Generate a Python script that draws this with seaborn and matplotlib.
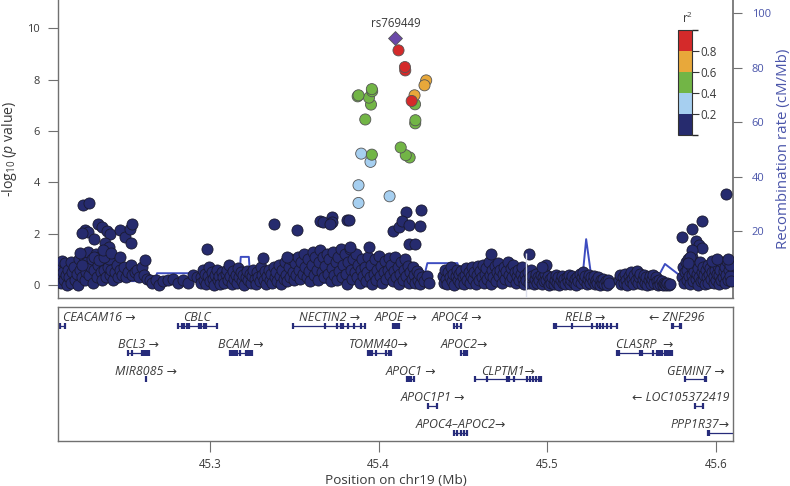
import numpy as np
import pandas as pd
import matplotlib
matplotlib.use('Agg')
import matplotlib.pyplot as plt
import seaborn as sns
from matplotlib.colors import ListedColormap, BoundaryNorm
import matplotlib.colorbar as mcolorbar

#lead variant
lead_name = 'rs769449'
lead_pos = 45.4100
lead_logp = 9.62

#variants in LD with the lead variant (position Mb, -log10 p, r2)
ld_pos = [45.4118, 45.4156, 45.4158, 45.4282, 45.4272, 45.4213, 45.4196, 45.4216,
          45.4218, 45.4217, 45.3881, 45.3876, 45.3960, 45.3962, 45.3943, 45.3955,
          45.3921, 45.4131, 45.4161, 45.4184, 45.3897, 45.3960, 45.3952, 45.3881,
          45.3881, 45.4065]
ld_logp = [9.14, 8.49, 8.36, 7.97, 7.78, 7.39, 7.17, 7.04,
           6.42, 6.30, 7.39, 7.35, 7.63, 7.55, 7.30, 7.03,
           6.45, 5.36, 5.06, 4.97, 5.12, 5.08, 4.80, 3.89,
           3.20, 3.46]
ld_r2 = [0.86, 0.85, 0.83, 0.70, 0.70, 0.66, 0.82, 0.50,
         0.50, 0.48, 0.50, 0.45, 0.52, 0.50, 0.48, 0.47,
         0.46, 0.50, 0.48, 0.45, 0.30, 0.42, 0.30, 0.28,
         0.26, 0.30]

#all other variants, r2 < 0.2 (position Mb, -log10 p)
bg_snps = [
    #45.21 - 45.30
    (45.2105, 0.3), (45.2112, 0.75), (45.2118, 0.1), (45.2125, 0.95), (45.2130, 0.5), (45.2137, 0.2),
    (45.2143, 0.85), (45.2148, 0.4), (45.2155, 0.0), (45.2160, 0.6), (45.2168, 0.3), (45.2175, 0.9),
    (45.2180, 0.1), (45.2186, 0.5), (45.2193, 0.7), (45.2200, 0.2), (45.2210, 0.45), (45.2218, 0.0),
    (45.2225, 1.0), (45.2230, 0.6), (45.2240, 0.3), (45.2248, 0.8), (45.2252, 1.1), (45.2260, 0.2),
    (45.2265, 0.5), (45.2272, 0.9), (45.2278, 1.3), (45.2285, 0.4), (45.2295, 0.7), (45.2300, 1.0),
    (45.2310, 0.1), (45.2316, 0.6), (45.2325, 1.2), (45.2330, 0.3), (45.2338, 0.8), (45.2344, 1.1),
    (45.2352, 0.5), (45.2360, 0.2), (45.2366, 0.9), (45.2373, 0.6), (45.2378, 1.2), (45.2386, 0.3),
    (45.2395, 0.7), (45.2402, 1.0), (45.2407, 0.4), (45.2415, 0.6), (45.2425, 0.2), (45.2436, 0.5),
    (45.2448, 0.8), (45.2458, 0.3), (45.2470, 0.6), (45.2482, 0.4), (45.2494, 0.7), (45.2505, 0.3),
    (45.2517, 0.5), (45.2530, 0.8), (45.2540, 0.4), (45.2556, 0.5), (45.2568, 0.6), (45.2580, 0.3),
    (45.2595, 0.7), (45.2610, 0.4), (45.2625, 0.25), (45.2645, 0.2), (45.2660, 0.1), (45.2680, 0.2),
    (45.2700, 0.0), (45.2720, 0.15), (45.2750, 0.2), (45.2780, 0.25), (45.2810, 0.1), (45.2840, 0.2),
    (45.2870, 0.1), (45.2900, 0.4), (45.2925, 0.3),
    (45.2251, 3.11), (45.2286, 3.19), (45.2262, 2.14), (45.2279, 2.06), (45.2244, 2.02), (45.2338, 2.4),
    (45.2362, 2.25), (45.2392, 2.1), (45.2409, 2.0), (45.2315, 1.79), (45.2468, 2.14), (45.2498, 1.87),
    (45.2527, 2.2), (45.2539, 2.4), (45.2533, 1.63), (45.2232, 1.25), (45.2313, 1.1), (45.2342, 0.97),
    (45.2376, 1.63), (45.2372, 1.1), (45.2402, 1.49), (45.2367, 1.36), (45.2416, 1.24), (45.2465, 1.1),
    (45.2613, 0.97), (45.2240, 0.78),
    #45.29 - 45.43
    (45.2945, 0.3), (45.2950, 0.1), (45.2958, 0.6), (45.2965, 0.2), (45.2972, 0.45), (45.2980, 0.05),
    (45.2988, 0.35), (45.2995, 0.7), (45.3003, 0.15), (45.3010, 0.5), (45.3018, 0.25), (45.3025, 0.0),
    (45.3032, 0.4), (45.3040, 0.6), (45.3048, 0.2), (45.3055, 0.35), (45.3062, 0.05), (45.3070, 0.5),
    (45.3078, 0.3), (45.3085, 0.1), (45.3093, 0.45), (45.3100, 0.6), (45.3108, 0.2), (45.3115, 0.8),
    (45.3122, 0.35), (45.3130, 0.05), (45.3138, 0.55), (45.3145, 0.25), (45.3152, 0.4), (45.3160, 0.1),
    (45.3168, 0.65), (45.3175, 0.3), (45.3183, 0.5), (45.3190, 0.15), (45.3198, 0.4), (45.3205, 0.0),
    (45.3212, 0.3), (45.3220, 0.55), (45.3228, 0.2), (45.3235, 0.45), (45.3243, 0.1), (45.3250, 0.35),
    (45.3258, 0.6), (45.3265, 0.25), (45.3272, 0.05), (45.3280, 0.5), (45.3288, 0.3), (45.3295, 0.15),
    (45.3302, 0.7), (45.3310, 0.4), (45.3318, 0.2), (45.3325, 0.55), (45.3333, 0.05), (45.3340, 0.35),
    (45.3348, 0.6), (45.3355, 0.2), (45.3363, 0.45), (45.3370, 0.1), (45.3378, 0.7), (45.3385, 0.3),
    (45.3393, 0.5), (45.3400, 0.15), (45.3408, 0.8), (45.3415, 0.35), (45.3423, 0.05), (45.3430, 0.6),
    (45.3438, 0.25), (45.3445, 0.9), (45.3453, 0.4), (45.3460, 0.15), (45.3468, 0.7), (45.3475, 0.3),
    (45.3483, 1.0), (45.3490, 0.5), (45.3498, 0.2), (45.3505, 0.85), (45.3513, 0.4), (45.3520, 1.1),
    (45.3528, 0.6), (45.3535, 0.25), (45.3543, 0.9), (45.3550, 0.45), (45.3558, 1.2), (45.3565, 0.7),
    (45.3573, 0.3), (45.3580, 1.0), (45.3588, 0.55), (45.3595, 0.15), (45.3603, 0.8), (45.3610, 1.3),
    (45.3618, 0.4), (45.3625, 1.1), (45.3633, 0.6), (45.3640, 0.2), (45.3648, 0.9), (45.3655, 1.35),
    (45.3663, 0.5), (45.3670, 1.1), (45.3678, 0.3), (45.3685, 0.75), (45.3693, 1.2), (45.3700, 0.45),
    (45.3708, 1.0), (45.3715, 0.15), (45.3723, 0.65), (45.3730, 1.3), (45.3738, 0.4), (45.3745, 0.9),
    (45.3753, 0.2), (45.3760, 1.1), (45.3768, 0.55), (45.3775, 1.4), (45.3783, 0.3), (45.3790, 0.8),
    (45.3798, 1.2), (45.3805, 0.45), (45.3813, 0.05), (45.3820, 0.9), (45.3828, 1.4), (45.3835, 0.6),
    (45.3843, 0.25), (45.3850, 1.0), (45.3858, 0.5), (45.3865, 1.2), (45.3873, 0.3), (45.3880, 0.8),
    (45.3888, 0.1), (45.3895, 0.6), (45.3903, 1.0), (45.3910, 0.35), (45.3918, 0.7), (45.3925, 0.15),
    (45.3933, 0.5), (45.3940, 1.1), (45.3948, 0.3), (45.3955, 0.8), (45.3963, 0.05), (45.3970, 0.45),
    (45.3978, 1.0), (45.3985, 0.2), (45.3993, 0.6), (45.4000, 1.15), (45.4008, 0.35), (45.4015, 0.75),
    (45.4023, 0.1), (45.4030, 0.5), (45.4038, 0.95), (45.4045, 0.25), (45.4053, 0.6), (45.4060, 1.05),
    (45.4068, 0.4), (45.4075, 0.8), (45.4083, 0.15), (45.4090, 0.55), (45.4098, 1.1), (45.4105, 0.3),
    (45.4113, 0.7), (45.4120, 0.05), (45.4128, 0.45), (45.4135, 0.9), (45.4143, 0.2), (45.4150, 0.6),
    (45.4158, 1.0), (45.4165, 0.35), (45.4173, 0.75), (45.4180, 0.1), (45.4188, 0.5), (45.4195, 0.25),
    (45.4203, 0.7), (45.4210, 0.4), (45.4218, 0.1), (45.4225, 0.55), (45.4233, 0.2), (45.4240, 0.45),
    (45.4248, 0.05), (45.4255, 0.3), (45.4270, 0.15), (45.4285, 0.35), (45.4298, 0.1),
    (45.2982, 1.39), (45.3313, 1.05), (45.3455, 1.1), (45.3379, 2.37), (45.3515, 2.14), (45.3651, 2.5),
    (45.3668, 2.45), (45.3722, 2.65), (45.3724, 2.45), (45.3710, 2.4), (45.3810, 2.52), (45.3822, 2.52),
    (45.3946, 1.48), (45.3828, 1.48), (45.4083, 2.1), (45.4118, 2.25),
    (45.4163, 2.84), (45.4252, 2.92), (45.4140, 2.5), (45.4183, 2.35), (45.4246, 2.3), (45.4183, 1.6),
    (45.4217, 1.6),
    #45.438 - 45.537
    (45.4380, 0.35), (45.4386, 0.1), (45.4393, 0.6), (45.4400, 0.25), (45.4407, 0.05), (45.4414, 0.5),
    (45.4421, 0.3), (45.4428, 0.7), (45.4435, 0.15), (45.4442, 0.45), (45.4449, 0.0), (45.4456, 0.35),
    (45.4463, 0.6), (45.4470, 0.2), (45.4477, 0.45), (45.4484, 0.1), (45.4491, 0.55), (45.4498, 0.3),
    (45.4505, 0.05), (45.4512, 0.4), (45.4519, 0.65), (45.4526, 0.2), (45.4533, 0.5), (45.4540, 0.1),
    (45.4547, 0.35), (45.4554, 0.7), (45.4561, 0.25), (45.4568, 0.5), (45.4575, 0.05), (45.4582, 0.4),
    (45.4589, 0.75), (45.4596, 0.2), (45.4603, 0.55), (45.4610, 0.3), (45.4617, 0.8), (45.4624, 0.1),
    (45.4631, 0.45), (45.4638, 0.65), (45.4645, 0.25), (45.4652, 0.9), (45.4659, 0.4), (45.4666, 0.05),
    (45.4673, 0.6), (45.4680, 0.3), (45.4687, 0.75), (45.4694, 0.15), (45.4701, 0.5), (45.4708, 0.85),
    (45.4715, 0.35), (45.4722, 0.6), (45.4729, 0.1), (45.4736, 0.45), (45.4743, 0.7), (45.4750, 0.25),
    (45.4757, 0.55), (45.4764, 0.9), (45.4771, 0.4), (45.4778, 0.15), (45.4785, 0.65), (45.4792, 0.3),
    (45.4799, 0.8), (45.4806, 0.5), (45.4813, 0.1), (45.4820, 0.35), (45.4827, 0.6), (45.4834, 0.2),
    (45.4841, 0.45), (45.4848, 0.7), (45.4855, 0.25), (45.4862, 0.05), (45.4869, 0.4), (45.4876, 0.2),
    (45.4883, 0.5), (45.4890, 0.1), (45.4897, 0.3), (45.4904, 0.6), (45.4911, 0.35), (45.4918, 0.05),
    (45.4925, 0.25), (45.4932, 0.45), (45.4939, 0.1), (45.4946, 0.3), (45.4953, 0.2), (45.4960, 0.4),
    (45.4967, 0.05), (45.4974, 0.3), (45.4981, 0.15), (45.4988, 0.45), (45.4995, 0.2), (45.5002, 0.35),
    (45.5009, 0.0), (45.5016, 0.25), (45.5023, 0.1), (45.5030, 0.3), (45.5037, 0.05), (45.5044, 0.2),
    (45.5051, 0.4), (45.5058, 0.1), (45.5065, 0.3), (45.5072, 0.0), (45.5079, 0.2), (45.5086, 0.35),
    (45.5093, 0.1), (45.5100, 0.25), (45.5107, 0.05), (45.5114, 0.3), (45.5121, 0.15), (45.5128, 0.4),
    (45.5135, 0.05), (45.5142, 0.2), (45.5149, 0.35), (45.5156, 0.1), (45.5163, 0.25), (45.5170, 0.0),
    (45.5177, 0.3), (45.5184, 0.15), (45.5191, 0.45), (45.5198, 0.1), (45.5205, 0.3), (45.5212, 0.5),
    (45.5219, 0.2), (45.5226, 0.35), (45.5233, 0.05), (45.5240, 0.25), (45.5247, 0.4), (45.5254, 0.1),
    (45.5261, 0.3), (45.5268, 0.15), (45.5275, 0.35), (45.5282, 0.05), (45.5289, 0.2), (45.5296, 0.1),
    (45.5303, 0.3), (45.5310, 0.0), (45.5317, 0.2), (45.5324, 0.1), (45.5331, 0.25), (45.5338, 0.05),
    (45.5345, 0.15), (45.5352, 0.0), (45.5359, 0.2), (45.5366, 0.1),
    (45.4666, 1.23), (45.4893, 1.2), (45.4992, 0.78), (45.4971, 0.71),
    #45.542 - 45.578
    (45.5425, 0.2), (45.5432, 0.4), (45.5439, 0.05), (45.5446, 0.3), (45.5453, 0.1), (45.5460, 0.45),
    (45.5467, 0.2), (45.5474, 0.0), (45.5481, 0.35), (45.5488, 0.15), (45.5495, 0.5), (45.5502, 0.25),
    (45.5509, 0.05), (45.5516, 0.4), (45.5523, 0.2), (45.5530, 0.55), (45.5537, 0.1), (45.5544, 0.3),
    (45.5551, 0.45), (45.5558, 0.05), (45.5565, 0.25), (45.5572, 0.4), (45.5579, 0.1), (45.5586, 0.3),
    (45.5593, 0.0), (45.5600, 0.2), (45.5607, 0.35), (45.5614, 0.05), (45.5621, 0.25), (45.5628, 0.4),
    (45.5635, 0.1), (45.5642, 0.3), (45.5649, 0.15), (45.5656, 0.0), (45.5663, 0.2), (45.5670, 0.05),
    (45.5677, 0.15), (45.5684, 0.0), (45.5691, 0.1), (45.5698, 0.05), (45.5705, 0.0), (45.5712, 0.1),
    (45.5719, 0.0), (45.5726, 0.05),
    #45.580 - 45.61
    (45.5800, 0.3), (45.5805, 0.7), (45.5810, 0.1), (45.5815, 0.5), (45.5820, 0.9), (45.5825, 0.2),
    (45.5830, 0.6), (45.5835, 1.0), (45.5840, 0.35), (45.5845, 0.05), (45.5850, 0.75), (45.5855, 0.4),
    (45.5860, 1.1), (45.5865, 0.15), (45.5870, 0.55), (45.5875, 0.85), (45.5880, 0.25), (45.5885, 0.45),
    (45.5890, 0.0), (45.5895, 0.65), (45.5900, 0.3), (45.5905, 0.9), (45.5910, 0.15), (45.5915, 0.5),
    (45.5920, 0.7), (45.5925, 0.2), (45.5930, 0.4), (45.5935, 0.05), (45.5940, 0.6), (45.5945, 0.3),
    (45.5950, 0.8), (45.5955, 0.1), (45.5960, 0.45), (45.5965, 0.65), (45.5970, 0.25), (45.5975, 0.5),
    (45.5980, 0.9), (45.5985, 0.1), (45.5990, 0.35), (45.5995, 0.6), (45.6000, 0.2), (45.6005, 0.45),
    (45.6010, 0.75), (45.6015, 0.05), (45.6020, 0.4), (45.6025, 0.6), (45.6030, 0.2), (45.6035, 0.9),
    (45.6040, 0.3), (45.6045, 0.55), (45.6050, 0.1), (45.6055, 0.7), (45.6060, 0.4), (45.6065, 0.95),
    (45.6070, 0.2), (45.6075, 0.6), (45.6080, 0.35), (45.6085, 0.8), (45.6090, 0.15),
    (45.5800, 1.86), (45.5859, 2.2), (45.5918, 2.48), (45.6056, 3.53), (45.5880, 1.7), (45.5900, 1.58),
    (45.5918, 1.44), (45.5860, 1.36), (45.5843, 1.1), (45.5835, 0.85), (45.5973, 0.95), (45.6008, 1.0),
    (45.6070, 1.0),
]

#recombination rate (cM/Mb)
recomb_pos = [45.2101, 45.2675, 45.2687, 45.3177, 45.3183, 45.3231, 45.3237, 45.3526, 45.3556,
              45.3585, 45.3600, 45.4260, 45.4289, 45.4467, 45.4473, 45.4600, 45.5206, 45.5230,
              45.5260, 45.5378, 45.5425, 45.5632, 45.5697, 45.5810, 45.6094]
recomb_rate = [1.6, 1.6, 4.5, 4.5, 10.5, 10.5, 4.6, 4.6, 12.3,
               1.4, 1.0, 0.8, 8.2, 8.2, 6.5, 2.0, 1.5, 17.0,
               3.5, 1.0, 0.2, 0.3, 7.9, 2.5, 1.5]
gap_pos = 45.4875

#genes: label, start, end, row, exon positions
gene_labels = ['CEACAM16 \u2192', 'CBLC', 'NECTIN2 \u2192', 'APOE \u2192', 'APOC4 \u2192', 'RELB \u2192',
               '\u2190 ZNF296', 'BCL3 \u2192', 'BCAM \u2192', 'TOMM40\u2192', 'APOC2\u2192', 'CLASRP  \u2192',
               'MIR8085 \u2192', 'APOC1 \u2192', 'CLPTM1\u2192', 'GEMIN7 \u2192', 'APOC1P1 \u2192',
               '\u2190 LOC105372419', 'APOC4\u2013APOC2\u2192', 'PPP1R37\u2192']
gene_start = [45.2114, 45.2813, 45.3492, 45.4084, 45.4447, 45.5042, 45.5737, 45.2517, 45.3118, 45.3935,
              45.4487, 45.5412, 45.2620, 45.4171, 45.4571, 45.5816, 45.4290, 45.5875, 45.4447, 45.5953]
gene_end = [45.2144, 45.3040, 45.3921, 45.4122, 45.4486, 45.5411, 45.5792, 45.2640, 45.3250, 45.4073,
            45.4526, 45.5741, 45.2621, 45.4211, 45.4965, 45.5943, 45.4349, 45.5924, 45.4526, 45.6200]
gene_row = [0, 0, 0, 0, 0, 0, 0, 1, 1, 1, 1, 1, 2, 2, 2, 2, 3, 3, 4, 4]
gene_exons = [
    [45.2114, 45.2144],
    [45.2813, 45.2833, 45.2848, 45.2866, 45.2878, 45.2937, 45.2947, 45.2965, 45.2975, 45.3040],
    [45.3492, 45.3685, 45.3752, 45.3778, 45.3787, 45.3817, 45.3856, 45.3896, 45.3921],
    [45.4085, 45.4092, 45.4099, 45.4106, 45.4113, 45.4120],
    [45.4447, 45.4466, 45.4486],
    [45.5042, 45.5054, 45.5146, 45.5264, 45.5293, 45.5313, 45.5327, 45.5353, 45.5378, 45.5411],
    [45.5737, 45.5743, 45.5786, 45.5792],
    [45.2517, 45.2541, 45.2597, 45.2604, 45.2611, 45.2618, 45.2625, 45.2632, 45.2640],
    [45.3118, 45.3132, 45.3140, 45.3148, 45.3161, 45.3177, 45.3217, 45.3224, 45.3236, 45.3243, 45.3250],
    [45.3935, 45.3942, 45.3949, 45.3956, 45.3963, 45.3985, 45.4044, 45.4063, 45.4073],
    [45.4487, 45.4505, 45.4512, 45.4519, 45.4526],
    [45.5412, 45.5422, 45.5550, 45.5559, 45.5628, 45.5648, 45.5658, 45.5667, 45.5677, 45.5697, 45.5707,
     45.5716, 45.5726, 45.5734, 45.5741],
    [45.2620],
    [45.4171, 45.4180, 45.4190, 45.4211],
    [45.4571, 45.4644, 45.4758, 45.4772, 45.4802, 45.4880, 45.4900, 45.4914, 45.4930, 45.4949, 45.4965],
    [45.5816, 45.5934, 45.5943],
    [45.4290, 45.4349],
    [45.5875, 45.5924],
    [45.4447, 45.4467, 45.4487, 45.4506, 45.4526],
    [45.5953, 45.5960],
]

x_ticks = [45.3, 45.4, 45.5, 45.6]

#colours
r2_bins = [0, 0.2, 0.4, 0.6, 0.8, 1.0]
r2_colors = ['#262b6e', '#a6cff0', '#72b546', '#e8a83a', '#d42a2a']
lead_color = '#6a48a8'
recomb_color = '#3d4cc0'
recomb_text = '#4a55aa'
spine_color = '#707070'
text_color = '#3a3a3a'

sns.set_theme(style='white')
plt.rcParams['font.family'] = ['Open Sans', 'DejaVu Sans']
plt.rcParams['mathtext.fontset'] = 'custom'
plt.rcParams['mathtext.rm'] = 'Open Sans'
plt.rcParams['mathtext.it'] = 'Open Sans:italic'

fig = plt.figure(figsize=(7.9, 4.86), dpi=100)
ax = fig.add_axes([0.0734, 0.3868, 0.8544, 0.6132])
ax_g = fig.add_axes([0.0734, 0.0926, 0.8544, 0.2757])

#recombination rate on right axis (drawn behind the points)
ax_r = ax.twinx()
sns.lineplot(x=recomb_pos, y=recomb_rate, ax=ax_r, color=recomb_color, lw=1.4,
             sort=False, estimator=None)
ax.set_zorder(ax_r.get_zorder() + 1)
ax.patch.set_visible(False)

#association points
bg = pd.DataFrame(bg_snps, columns=['pos', 'logp'])
sns.scatterplot(data=bg, x='pos', y='logp', ax=ax, color=r2_colors[0], s=64,
                edgecolor='#1a1a30', linewidth=0.6, legend=False, zorder=3)
ax.vlines(gap_pos, -0.5, 1.25, color='#dde0ec', lw=1.0, zorder=4)

ld = pd.DataFrame({'pos': ld_pos, 'logp': ld_logp, 'r2': ld_r2}).sort_values('r2')
ld['bin'] = pd.cut(ld['r2'], r2_bins, labels=False)
sns.scatterplot(data=ld, x='pos', y='logp', hue='bin', palette=dict(enumerate(r2_colors)),
                ax=ax, s=64, edgecolor='#555555', linewidth=0.6, legend=False, zorder=5)
sns.scatterplot(x=[lead_pos], y=[lead_logp], ax=ax, marker='D', s=50, color=lead_color,
                edgecolor='#555555', linewidth=0.6, legend=False, zorder=6)
ax.text(lead_pos, lead_logp + 0.3, lead_name, ha='center', va='bottom', fontsize=8.3, color=text_color)

ax.set_xlim(45.21, 45.61)
ax.set_ylim(-0.5, 11.1)
ax.set_yticks([0, 2, 4, 6, 8, 10])
ax.set_xticks([])
ax.set_xlabel('')
ax.set_ylabel(r'-log$_{10}$ ($p$ value)', fontsize=10.2, color=text_color, va='center')
ax.yaxis.set_label_coords(-0.0716, 0.5)
ax.tick_params(axis='y', direction='out', length=7, width=0.8, color=spine_color,
               labelsize=8, labelcolor=text_color, pad=6, left=True)
for s in ['top', 'right']:
    ax.spines[s].set_visible(False)
for s in ['left', 'bottom']:
    ax.spines[s].set_color(spine_color)
    ax.spines[s].set_linewidth(1.0)

ax_r.set_xlim(45.21, 45.61)
ax_r.set_ylim(-4.6, 104.8)
ax_r.set_yticks([20, 40, 60, 80, 100])
ax_r.tick_params(axis='y', direction='out', length=6.5, width=0.8, color=spine_color,
                 labelsize=8, labelcolor=recomb_text, pad=7, right=True)
ax_r.set_ylabel('Recombination rate (cM/Mb)', fontsize=10.8, color=recomb_text, va='center')
ax_r.yaxis.set_label_coords(1.0745, 0.5)
for s in ['top', 'left', 'bottom']:
    ax_r.spines[s].set_visible(False)
ax_r.spines['right'].set_color(spine_color)

#r2 colour key
ax_cb = fig.add_axes([678 / 790, 1 - 135 / 486, 14 / 790, 105 / 486])
cb = mcolorbar.ColorbarBase(ax_cb, cmap=ListedColormap(r2_colors),
                            norm=BoundaryNorm(r2_bins, len(r2_colors)),
                            boundaries=r2_bins, ticks=[0.2, 0.4, 0.6, 0.8])
cb.outline.set_edgecolor('#333333')
cb.outline.set_linewidth(0.8)
ax_cb.tick_params(length=5, width=0.8, color='#333333', labelsize=8.3, labelcolor=text_color, pad=1)
ax_cb.set_yticklabels(['0.2', '0.4', '0.6', '0.8'])
ax_cb.text(0.7, 1.04, r'r$^2$', transform=ax_cb.transAxes, ha='center', va='bottom',
           fontsize=8.3, color=text_color)

#gene track
gene_blue = '#262b7a'
texts = []
for lab, st, en, row, ex in zip(gene_labels, gene_start, gene_end, gene_row, gene_exons):
    ax_g.hlines(row, st, en, color=gene_blue, lw=0.9)
    ax_g.vlines(ex, row - 0.11, row + 0.11, color=gene_blue, lw=1.6)
    t = ax_g.text((st + min(en, 45.61)) / 2, row - 0.31, lab, ha='center', va='center',
                  fontsize=8.9, style='italic', color=text_color,
                  family=['Open Sans', 'DejaVu Sans'])
    texts.append(t)

ax_g.set_xlim(45.21, 45.61)
ax_g.set_ylim(4.3, -0.7)
ax_g.set_yticks([])
ax_g.set_xticks(x_ticks)
ax_g.set_xticklabels([f'{v:.1f}' for v in x_ticks])
ax_g.tick_params(axis='x', direction='out', length=8, width=0.8, color=spine_color,
                 labelsize=8.3, labelcolor=text_color, pad=4, bottom=True)
for s in ax_g.spines.values():
    s.set_color(spine_color)
    s.set_linewidth(1.0)
ax_g.set_xlabel('Position on chr19 (Mb)', fontsize=9.7, color=text_color)
ax_g.xaxis.set_label_coords(0.5, -0.243)

#keep gene labels inside the panel
fig.canvas.draw()
renderer = fig.canvas.get_renderer()
box = ax_g.get_window_extent(renderer)
for t in texts:
    bb = t.get_window_extent(renderer)
    shift = 0
    if bb.x0 < box.x0 + 5:
        shift = box.x0 + 5 - bb.x0
    elif bb.x1 > box.x1 - 3:
        shift = box.x1 - 3 - bb.x1
    if shift:
        xd, yd = ax_g.transData.transform(t.get_position())
        t.set_x(ax_g.transData.inverted().transform((xd + shift, yd))[0])

fig.savefig('out.png', dpi=100)
